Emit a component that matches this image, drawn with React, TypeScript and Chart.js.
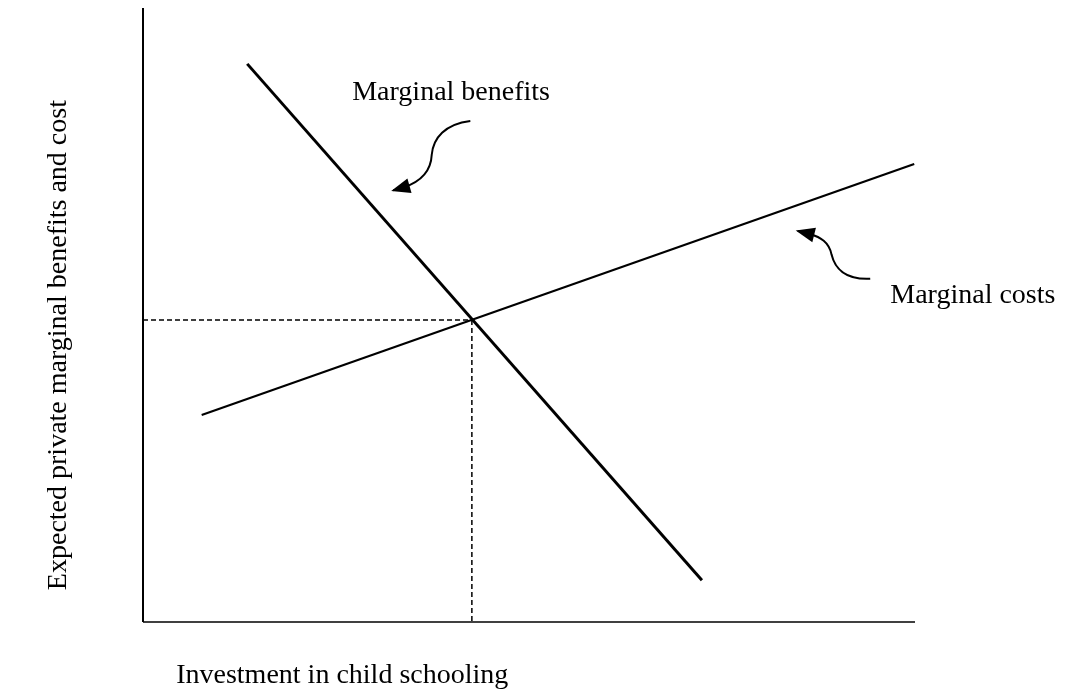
import React, { useEffect, useRef } from "react";
import { Chart, registerables } from "chart.js";

Chart.register(...registerables);

// Curves (chart units: 0..100 on both axes)
const marginalBenefits = [
  { x: 13.5, y: 90.9 },
  { x: 72.4, y: 6.8 },
];
const marginalCosts = [
  { x: 7.6, y: 33.7 },
  { x: 99.9, y: 74.6 },
];
const equilibrium = { x: 42.6, y: 49.2 };

const yAxisLine = [
  { x: 0, y: 0 },
  { x: 0, y: 100 },
];
const xAxisLine = [
  { x: 0, y: 0 },
  { x: 100, y: 0 },
];

const labelMB = "Marginal benefits";
const labelMC = "Marginal costs";
const xTitle = "Investment in child schooling";
const yTitle = "Expected private marginal benefits and cost";

const labelMBPos = [27.1, 85.0];
const labelMCPos = [96.8, 52.0];
const xTitlePos = [4.3, -9.9];
const yTitlePos = [-10.0, 45.1];

// curved arrows: start, (c1, c2, end) bezier segments, then arrow tip
const arrowMB = [
  [42.4, 81.6],
  [39.1, 81.1], [37.6, 78.8], [37.4, 76.1],
  [37.3, 73.3], [35.9, 71.7], [33.8, 70.8],
];
const arrowMBTip = [32.4, 70.3];
const arrowMC = [
  [94.2, 55.9],
  [90.9, 55.7], [89.6, 57.7], [89.2, 59.8],
  [88.9, 61.9], [87.7, 62.7], [86.4, 63.2],
];
const arrowMCTip = [84.8, 63.7];

const FONT = '28px "Liberation Serif", "Times New Roman", serif';

const annotationPlugin = {
  id: "annotations",
  afterDatasetsDraw(chart: any) {
    const { ctx } = chart;
    const xs = chart.scales.x;
    const ys = chart.scales.y;
    const px = (p: number[]) => [xs.getPixelForValue(p[0]), ys.getPixelForValue(p[1])];
    ctx.save();
    ctx.strokeStyle = "#000";
    ctx.fillStyle = "#000";

    const drawArrow = (path: number[][], tipU: number[]) => {
      const pts = path.map(px);
      ctx.beginPath();
      ctx.moveTo(pts[0][0], pts[0][1]);
      for (let i = 1; i + 2 < pts.length; i += 3) {
        ctx.bezierCurveTo(pts[i][0], pts[i][1], pts[i + 1][0], pts[i + 1][1], pts[i + 2][0], pts[i + 2][1]);
      }
      const end = pts[pts.length - 1];
      const tip = px(tipU);
      ctx.lineTo(tip[0], tip[1]);
      ctx.lineWidth = 2;
      ctx.setLineDash([]);
      ctx.stroke();
      const dx = tip[0] - end[0];
      const dy = tip[1] - end[1];
      const len = Math.hypot(dx, dy) || 1;
      const ux = dx / len;
      const uy = dy / len;
      const L = 17;
      const W = 7.5;
      const bx = tip[0] - ux * L;
      const by = tip[1] - uy * L;
      ctx.beginPath();
      ctx.moveTo(tip[0] + ux * 2, tip[1] + uy * 2);
      ctx.lineTo(bx - uy * W, by + ux * W);
      ctx.lineTo(bx + uy * W, by - ux * W);
      ctx.closePath();
      ctx.fill();
    };
    drawArrow(arrowMB, arrowMBTip);
    drawArrow(arrowMC, arrowMCTip);

    ctx.font = FONT;
    ctx.textBaseline = "alphabetic";
    ctx.textAlign = "left";
    let p = px(labelMBPos);
    ctx.fillText(labelMB, p[0], p[1]);
    p = px(labelMCPos);
    ctx.fillText(labelMC, p[0], p[1]);
    p = px(xTitlePos);
    ctx.fillText(xTitle, p[0], p[1]);
    p = px(yTitlePos);
    ctx.translate(p[0], p[1]);
    ctx.rotate(-Math.PI / 2);
    ctx.textAlign = "center";
    ctx.fillText(yTitle, 0, 0);
    ctx.restore();
  },
};

export default function App() {
  const ref = useRef<HTMLCanvasElement | null>(null);
  useEffect(() => {
    if (!ref.current) return;
    const chart = new Chart(ref.current, {
      type: "line",
      data: {
        datasets: [
          {
            label: "y axis",
            data: yAxisLine,
            borderColor: "#000",
            borderWidth: 2,
            pointRadius: 0,
            clip: false,
          },
          {
            label: "x axis",
            data: xAxisLine,
            borderColor: "#000",
            borderWidth: 1.6,
            pointRadius: 0,
            clip: false,
          },
          {
            label: "guide h",
            data: [{ x: 0, y: equilibrium.y }, { x: equilibrium.x, y: equilibrium.y }],
            borderColor: "#000",
            borderWidth: 1.5,
            borderDash: [5, 3],
            pointRadius: 0,
            clip: false,
          },
          {
            label: "guide v",
            data: [{ x: equilibrium.x, y: equilibrium.y }, { x: equilibrium.x, y: 0 }],
            borderColor: "#000",
            borderWidth: 1.5,
            borderDash: [5, 3],
            pointRadius: 0,
            clip: false,
          },
          {
            label: "Marginal costs",
            data: marginalCosts,
            borderColor: "#000",
            borderWidth: 2.2,
            pointRadius: 0,
            clip: false,
          },
          {
            label: "Marginal benefits",
            data: marginalBenefits,
            borderColor: "#000",
            borderWidth: 3,
            pointRadius: 0,
            clip: false,
          },
        ],
      },
      options: {
        animation: false,
        responsive: false,
        devicePixelRatio: 1,
        layout: { padding: { left: 143, right: 161, top: 8, bottom: 71 } },
        scales: {
          x: { type: "linear", min: 0, max: 100, display: false },
          y: { type: "linear", min: 0, max: 100, display: false },
        },
        plugins: { legend: { display: false }, tooltip: { enabled: false } },
      },
      plugins: [annotationPlugin],
    });
    return () => chart.destroy();
  }, []);
  return (
    <div style={{ position: "fixed", left: 0, top: 0, width: 1076, height: 693, background: "#fff" }}>
      <canvas ref={ref} width={1076} height={693} />
    </div>
  );
}
